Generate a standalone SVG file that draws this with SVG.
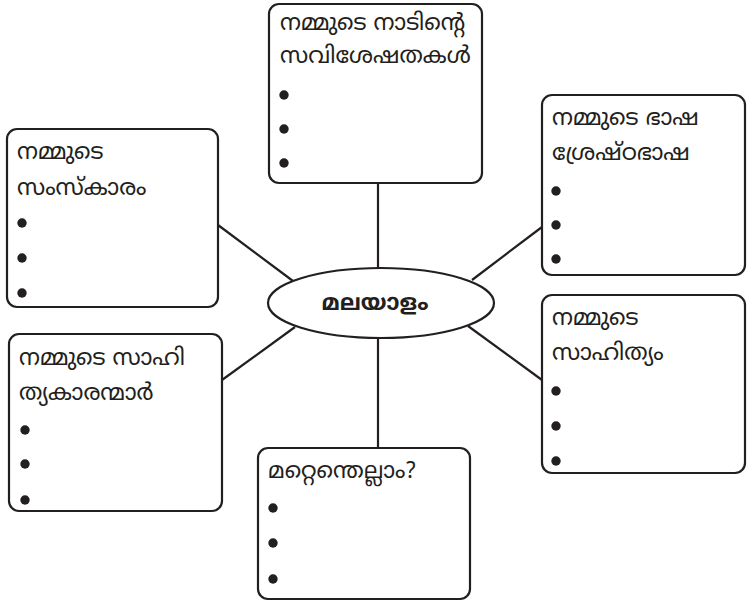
<svg xmlns="http://www.w3.org/2000/svg" width="747" height="601" viewBox="0 0 747 601">
<style>
.box{fill:#fff;stroke:#231f20;stroke-width:2.2}
.ln{stroke:#231f20;stroke-width:2.2;fill:none}
.t{font-family:"Noto Sans Malayalam","Noto Sans","DejaVu Sans",sans-serif;font-size:23px;fill:#231f20}
.c{font-family:"Noto Sans Malayalam","Noto Sans","DejaVu Sans",sans-serif;font-size:22.5px;font-weight:bold;fill:#231f20}
.b{fill:#231f20}
</style>
<rect width="747" height="601" fill="#fff"/>
<g id="connectors">
<line class="ln" x1="378" y1="183" x2="378" y2="268"/>
<line class="ln" x1="378" y1="338" x2="378" y2="448"/>
<line class="ln" x1="218" y1="225" x2="293" y2="281"/>
<line class="ln" x1="542" y1="227" x2="472" y2="280"/>
<line class="ln" x1="222" y1="380" x2="295" y2="327"/>
<line class="ln" x1="542" y1="380" x2="468" y2="326"/>
</g>
<g id="center">
<ellipse class="box" cx="381" cy="303" rx="113" ry="35"/>
<text class="c" x="375" y="310" text-anchor="middle">മലയാളം</text>
</g>
<g id="n-top">
<rect class="box" x="269" y="4" width="213" height="179" rx="10"/>
<text class="t" x="280" y="30">നമ്മുടെ നാടിന്റെ</text>
<text class="t" x="280" y="63">സവിശേഷതകൾ</text>
<circle class="b" cx="284" cy="95" r="4.7"/>
<circle class="b" cx="284" cy="129" r="4.7"/>
<circle class="b" cx="284" cy="163" r="4.7"/>
</g>
<g id="n-left-top">
<rect class="box" x="7" y="129" width="211" height="178" rx="10"/>
<text class="t" x="17" y="159">നമ്മുടെ</text>
<text class="t" x="17" y="195">സംസ്കാരം</text>
<circle class="b" cx="22" cy="223" r="4.7"/>
<circle class="b" cx="22" cy="258" r="4.7"/>
<circle class="b" cx="22" cy="293" r="4.7"/>
</g>
<g id="n-right-top">
<rect class="box" x="542" y="95" width="203" height="180" rx="10"/>
<text class="t" x="552" y="125">നമ്മുടെ ഭാഷ</text>
<text class="t" x="552" y="160">ശ്രേഷ്ഠഭാഷ</text>
<circle class="b" cx="556" cy="191" r="4.7"/>
<circle class="b" cx="556" cy="225" r="4.7"/>
<circle class="b" cx="556" cy="259" r="4.7"/>
</g>
<g id="n-left-bottom">
<rect class="box" x="9" y="334" width="213" height="177" rx="10"/>
<text class="t" x="19" y="365">നമ്മുടെ സാഹി</text>
<text class="t" x="19" y="400">ത്യകാരന്മാർ</text>
<circle class="b" cx="25" cy="430" r="4.7"/>
<circle class="b" cx="25" cy="464" r="4.7"/>
<circle class="b" cx="25" cy="500" r="4.7"/>
</g>
<g id="n-right-bottom">
<rect class="box" x="542" y="295" width="203" height="178" rx="10"/>
<text class="t" x="552" y="325">നമ്മുടെ</text>
<text class="t" x="552" y="360">സാഹിത്യം</text>
<circle class="b" cx="556" cy="391" r="4.7"/>
<circle class="b" cx="556" cy="426" r="4.7"/>
<circle class="b" cx="556" cy="461" r="4.7"/>
</g>
<g id="n-bottom">
<rect class="box" x="258" y="448" width="212" height="151" rx="10"/>
<text class="t" x="268" y="478">മറ്റെന്തെല്ലാം?</text>
<circle class="b" cx="273" cy="508" r="4.7"/>
<circle class="b" cx="273" cy="543" r="4.7"/>
<circle class="b" cx="273" cy="579" r="4.7"/>
</g>
</svg>
